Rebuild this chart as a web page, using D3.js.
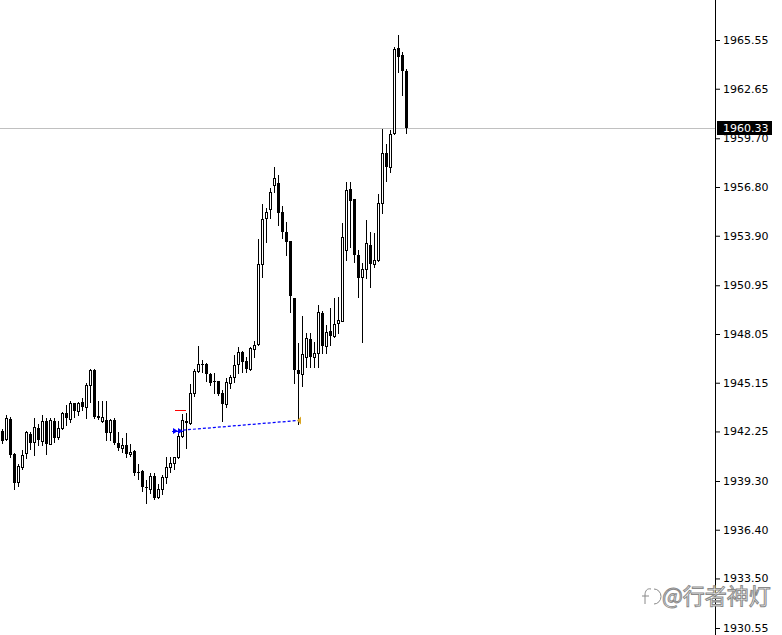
<!DOCTYPE html>
<meta charset="utf-8">
<style>
body { margin: 0; background: #fff; }
svg { display: block; }
.axis text { font: 11px "DejaVu Sans", Verdana, sans-serif; fill: #000; }
</style>
<body>
<script src="https://cdn.jsdelivr.net/npm/d3@7/dist/d3.min.js"></script>
<script>

// OHLC bars, oldest first
var open = [1942.28,1941.78,1942.97,1940.91,1939.22,1940.15,1940.95,1942.10,1941.60,1942.44,
1941.70,1942.87,1941.50,1942.87,1941.90,1942.44,1943.36,1942.97,1943.92,1943.48,
1943.98,1943.72,1945.01,1945.91,1943.17,1942.89,1942.93,1942.23,1942.93,1941.54,
1941.25,1941.44,1940.89,1941.08,1939.85,1939.89,1938.94,1938.82,1939.60,1938.36,
1938.80,1939.52,1940.11,1940.35,1940.71,1942.00,1942.87,1942.73,1944.52,1945.86,
1946.25,1946.26,1945.65,1945.25,1945.25,1944.52,1943.86,1945.11,1945.47,1946.25,
1947.00,1946.44,1945.95,1947.14,1947.44,1952.20,1954.94,1955.47,1956.92,1957.04,
1955.33,1954.14,1953.58,1950.21,1945.91,1945.67,1946.70,1947.73,1946.70,1946.90,
1949.32,1947.33,1948.23,1947.95,1948.72,1948.85,1953.05,1956.66,1956.07,1952.75,
1951.42,1951.90,1953.35,1952.22,1952.45,1955.83,1958.80,1958.01,1960.00,1965.09,
1964.66,1963.70];

var high = [1942.38,1943.23,1943.13,1940.98,1940.29,1941.14,1942.29,1942.23,1943.03,1942.67,
1943.23,1943.03,1943.03,1943.03,1942.87,1943.42,1943.82,1944.06,1943.96,1944.02,
1944.22,1945.11,1945.97,1945.94,1944.06,1944.06,1944.06,1942.97,1943.03,1942.23,
1941.84,1942.14,1941.48,1941.14,1940.29,1939.95,1939.36,1939.76,1939.76,1939.10,
1939.66,1940.71,1940.71,1940.75,1942.33,1943.29,1943.33,1945.07,1945.95,1947.33,
1946.50,1946.34,1945.71,1945.71,1945.27,1944.72,1945.41,1945.61,1946.80,1947.29,
1947.05,1946.70,1947.26,1947.63,1953.70,1955.79,1955.53,1956.72,1957.97,1957.51,
1955.67,1954.72,1953.58,1950.21,1947.50,1949.15,1948.13,1948.09,1947.59,1949.78,
1949.44,1948.58,1949.58,1950.17,1950.23,1954.63,1957.11,1957.11,1956.09,1953.05,
1952.26,1954.83,1954.14,1954.04,1956.38,1960.25,1959.34,1960.19,1965.15,1965.85,
1964.85,1963.80];

var low = [1941.54,1941.74,1940.75,1938.82,1939.02,1940.01,1940.69,1941.19,1940.85,1941.42,
1941.44,1940.89,1941.48,1941.64,1941.78,1942.40,1942.63,1942.79,1943.13,1943.23,
1943.53,1943.07,1944.02,1943.07,1942.99,1942.83,1941.74,1941.74,1941.50,1941.14,
1941.01,1940.75,1940.81,1939.66,1939.42,1938.72,1938.01,1938.60,1938.23,1938.27,
1938.53,1939.16,1939.85,1940.00,1940.65,1941.94,1941.25,1942.69,1944.36,1945.81,
1945.81,1945.25,1945.01,1944.55,1944.42,1942.89,1943.72,1944.85,1945.21,1945.71,
1945.77,1945.77,1945.93,1946.66,1947.39,1951.46,1953.54,1954.94,1956.50,1954.54,
1953.76,1952.75,1949.36,1945.11,1942.69,1944.95,1946.10,1946.10,1946.10,1946.10,
1946.90,1946.90,1947.39,1947.90,1948.09,1948.80,1952.45,1953.21,1952.35,1950.27,
1947.59,1951.36,1950.86,1952.02,1952.40,1955.27,1957.17,1957.71,1959.95,1963.66,
1962.28,1960.03];

var close = [1941.68,1943.07,1940.85,1939.20,1940.19,1940.85,1942.23,1941.58,1942.50,1941.72,
1942.87,1941.50,1942.91,1941.88,1942.44,1943.36,1943.07,1943.92,1943.48,1943.96,
1943.72,1945.01,1945.91,1943.13,1943.03,1943.09,1942.17,1942.93,1941.54,1941.25,
1941.44,1940.89,1941.01,1939.79,1939.83,1938.96,1938.90,1939.60,1938.27,1938.80,
1939.55,1940.11,1940.35,1940.71,1942.00,1942.93,1942.73,1944.52,1945.85,1946.25,
1946.22,1945.65,1945.15,1945.23,1944.46,1943.86,1945.17,1945.47,1946.20,1947.00,
1946.40,1945.95,1947.20,1947.39,1952.20,1954.88,1955.33,1956.48,1957.32,1955.23,
1954.14,1953.54,1950.33,1945.91,1945.65,1946.86,1947.79,1946.70,1946.90,1949.34,
1947.33,1948.15,1947.95,1948.63,1948.88,1953.82,1956.62,1955.98,1952.75,1951.36,
1951.90,1953.45,1952.22,1952.45,1955.83,1958.80,1958.01,1959.94,1965.00,1964.55,
1963.70,1960.33];

// price scale labels as printed on the right
var priceTicks = [1965.55,1962.65,1959.70,1956.80,1953.90,1950.95,1948.05,1945.15,1942.25,1939.30,1936.40,1933.50,1930.55];
var bidPrice = 1960.33;

// trade objects drawn on the chart: [bar position, price]
var tradeOpen = [43.25, 1942.28];
var tradeClose = [74.5, 1942.90];
var stopLevel = [43.75, 46.5, 1943.53];

var width = 782, height = 635, axisX = 715;

var svg = d3.select("body").append("svg")
    .attr("width", width)
    .attr("height", height);

svg.append("rect").attr("width", width).attr("height", height).attr("fill", "#fff");

var n = open.length;
var x = d3.scaleBand().domain(d3.range(n)).range([0, n * 4]);
var y = d3.scaleLinear().domain([1930.55, 1965.55]).range([628, 40]);

// fractional bar position -> pixel
function xpos(v) { return x(0) + v * x.step(); }
function cx(i) { return Math.round(x(i)) + 2; }
function py(v) { return Math.round(y(v)); }

// bid line
svg.append("line")
    .attr("x1", 0).attr("x2", axisX)
    .attr("y1", py(bidPrice) + 0.5).attr("y2", py(bidPrice) + 0.5)
    .attr("stroke", "#c0c0c0");

// candles
var bars = svg.append("g").selectAll("g")
    .data(d3.range(n))
    .enter().append("g");

bars.append("line")
    .attr("x1", function(i) { return cx(i) + 0.5; })
    .attr("x2", function(i) { return cx(i) + 0.5; })
    .attr("y1", function(i) { return py(high[i]); })
    .attr("y2", function(i) { return py(low[i]) + 1; })
    .attr("stroke", "#000");

bars.append("rect")
    .attr("x", function(i) { return close[i] > open[i] ? cx(i) - 0.5 : cx(i) - 1; })
    .attr("y", function(i) {
      var t = py(Math.max(open[i], close[i]));
      return close[i] > open[i] ? t + 0.5 : t;
    })
    .attr("width", function(i) { return close[i] > open[i] ? 2 : 3; })
    .attr("height", function(i) {
      var h = py(Math.min(open[i], close[i])) - py(Math.max(open[i], close[i]));
      return close[i] > open[i] ? Math.max(h, 0) : Math.max(h, 1);
    })
    .attr("fill", function(i) { return close[i] > open[i] ? "#fff" : "#000"; })
    .attr("stroke", function(i) { return close[i] > open[i] ? "#000" : "none"; });

// stop level (red)
svg.append("line")
    .attr("x1", xpos(stopLevel[0])).attr("x2", xpos(stopLevel[1]))
    .attr("y1", py(stopLevel[2]) + 0.5).attr("y2", py(stopLevel[2]) + 0.5)
    .attr("stroke", "#ff0000");

// trade history line
var x1 = xpos(tradeOpen[0]),
    x2 = xpos(tradeClose[0]);
svg.append("line")
    .attr("x1", x1).attr("y1", y(tradeOpen[1]))
    .attr("x2", x2).attr("y2", y(tradeClose[1]))
    .attr("stroke", "#0000ff")
    .attr("stroke-width", 1.2)
    .attr("stroke-dasharray", "3,2");

// buy arrows
var ay = y(tradeOpen[1]);
svg.append("path")
    .attr("d", "M" + x1 + "," + (ay - 3) + "l5,3l-5,3z M" + (x1 + 5) + "," + (ay - 3) + "l5,3l-5,3z")
    .attr("fill", "#0000ff");
svg.append("line")
    .attr("x1", x1 - 1).attr("x2", x1 + 10)
    .attr("y1", Math.round(ay) + 0.5).attr("y2", Math.round(ay) + 0.5)
    .attr("stroke", "#0000ff");

// close marker
var by = y(tradeClose[1]);
svg.append("path")
    .attr("d", "M" + (x2 - 1) + "," + by + "l4,-4l0,8z")
    .attr("fill", "#daa520");

// price axis
svg.append("line")
    .attr("x1", axisX + 0.5).attr("x2", axisX + 0.5)
    .attr("y1", 0).attr("y2", height)
    .attr("stroke", "#000");

var axis = svg.append("g")
    .attr("class", "axis")
    .attr("transform", "translate(" + (axisX + 1) + ",0)")
    .call(d3.axisRight(y).tickValues(priceTicks).tickFormat(d3.format(".2f")).tickSize(4).tickPadding(3));
axis.select(".domain").remove();
axis.selectAll(".tick line").attr("stroke", "#000");

// bid label
var bidY = py(bidPrice);
svg.append("rect")
    .attr("x", axisX + 2).attr("y", bidY - 7)
    .attr("width", 55).attr("height", 14)
    .attr("fill", "#000");
svg.append("text")
    .attr("x", axisX + 8).attr("y", bidY + 4)
    .style("font", "11px 'DejaVu Sans', Verdana, sans-serif")
    .attr("fill", "#fff")
    .text(d3.format(".2f")(bidPrice));

// watermark
var wm = svg.append("g").attr("fill", "#fff").attr("stroke", "#8a8a8a").attr("stroke-width", 1);
wm.append("path")
    .attr("d", "M651,589 c-4,-1 -6,2 -6,6 l0,9 M642,596 h7 M654,589 a7,7.5 0 0,1 0,15")
    .attr("fill", "none");
wm.append("text")
    .attr("x", 662).attr("y", 604)
    .style("font", "22px 'Noto Sans CJK SC', sans-serif")
    .text("@行者神灯");

</script>
</body>
